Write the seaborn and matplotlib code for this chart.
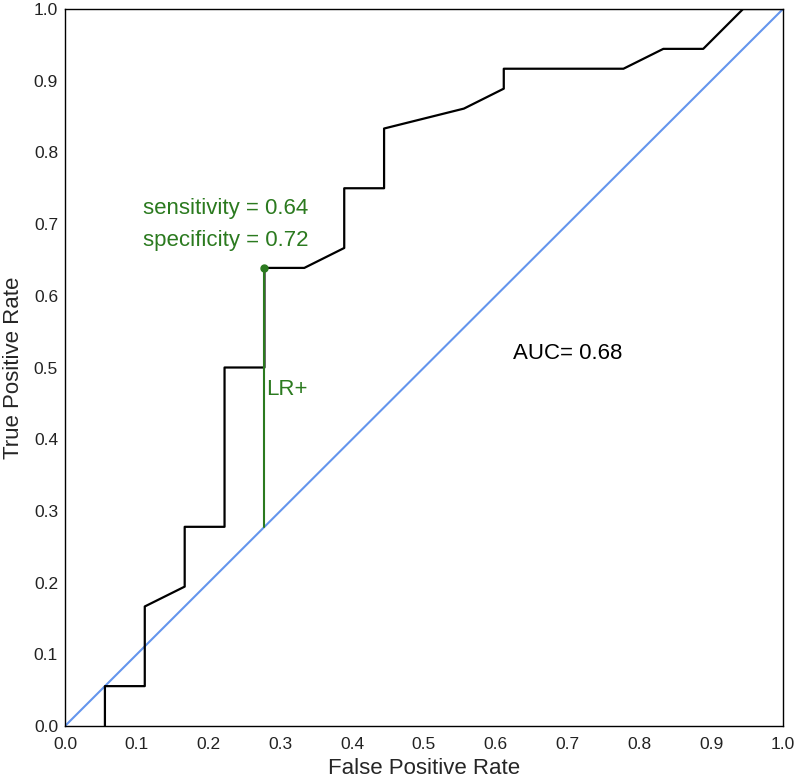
import matplotlib
matplotlib.use("Agg")
import matplotlib.pyplot as plt
import seaborn as sns
import numpy as np

# ── ROC data ──────────────────────────────────────────────────────────────────
fpr = [0.0556, 0.0556, 0.1111, 0.1111, 0.1667, 0.1667, 0.2222, 0.2222,
       0.2778, 0.2778, 0.3333, 0.3889, 0.3889, 0.4444, 0.4444, 0.5556,
       0.6111, 0.6111, 0.7778, 0.8333, 0.8889, 0.9444, 1.0]
tpr = [0.0, 0.0556, 0.0556, 0.1667, 0.1944, 0.2778, 0.2778, 0.5,
       0.5, 0.6389, 0.6389, 0.6667, 0.75, 0.75, 0.8333, 0.8611,
       0.8889, 0.9167, 0.9167, 0.9444, 0.9444, 1.0, 1.0]
chance = [0.0, 1.0]

cut_fpr = 0.2778
cut_tpr = 0.6389
auc = 0.68
ticks = np.round(np.arange(0, 1.01, 0.1), 1)

sns.set_style("white")
plt.rcParams["font.family"] = ["Liberation Sans", "DejaVu Sans"]

fig = plt.figure(figsize=(8, 7.81), dpi=100)
ax = fig.add_axes([65 / 800, 55 / 781, 718 / 800, 717 / 781])

sns.lineplot(x=chance, y=chance, color="cornflowerblue", linewidth=1.5, ax=ax)
sns.lineplot(x=fpr, y=tpr, color="black", linewidth=1.6, sort=False,
             estimator=None, ax=ax)

# LR+ segment from the diagonal up to the cut point
green = "#2b7a1f"
ax.plot([cut_fpr, cut_fpr], [cut_fpr, cut_tpr], color=green, linewidth=1.5)
ax.plot([cut_fpr], [cut_tpr], "o", color=green, markersize=5)

ax.text(0.109, 0.722, f"sensitivity = {cut_tpr:.2f}", color=green,
        fontsize=16, va="center")
ax.text(0.109, 0.677, f"specificity = {1 - cut_fpr:.2f}", color=green,
        fontsize=16, va="center")
ax.text(cut_fpr + 0.003, 0.47, "LR+", color=green, fontsize=16, va="center")
ax.text(0.624, 0.52, f"AUC= {auc:.2f}", color="black", fontsize=16,
        va="center")

ax.set_xlim(0, 1)
ax.set_ylim(0, 1)
ax.set_xticks(ticks)
ax.set_yticks(ticks)
ax.set_xticklabels([f"{t:.1f}" for t in ticks])
ax.set_yticklabels([f"{t:.1f}" for t in ticks])
ax.tick_params(labelsize=12.5, length=0, colors="#222222")
ax.tick_params(axis="x", pad=8)
ax.tick_params(axis="y", pad=5)
ax.set_xlabel("False Positive Rate", fontsize=16, labelpad=4)
ax.set_ylabel("True Positive Rate", fontsize=16, labelpad=7)

for s in ax.spines.values():
    s.set_color("black")
    s.set_linewidth(1.0)

fig.savefig("out.png", dpi=100)
